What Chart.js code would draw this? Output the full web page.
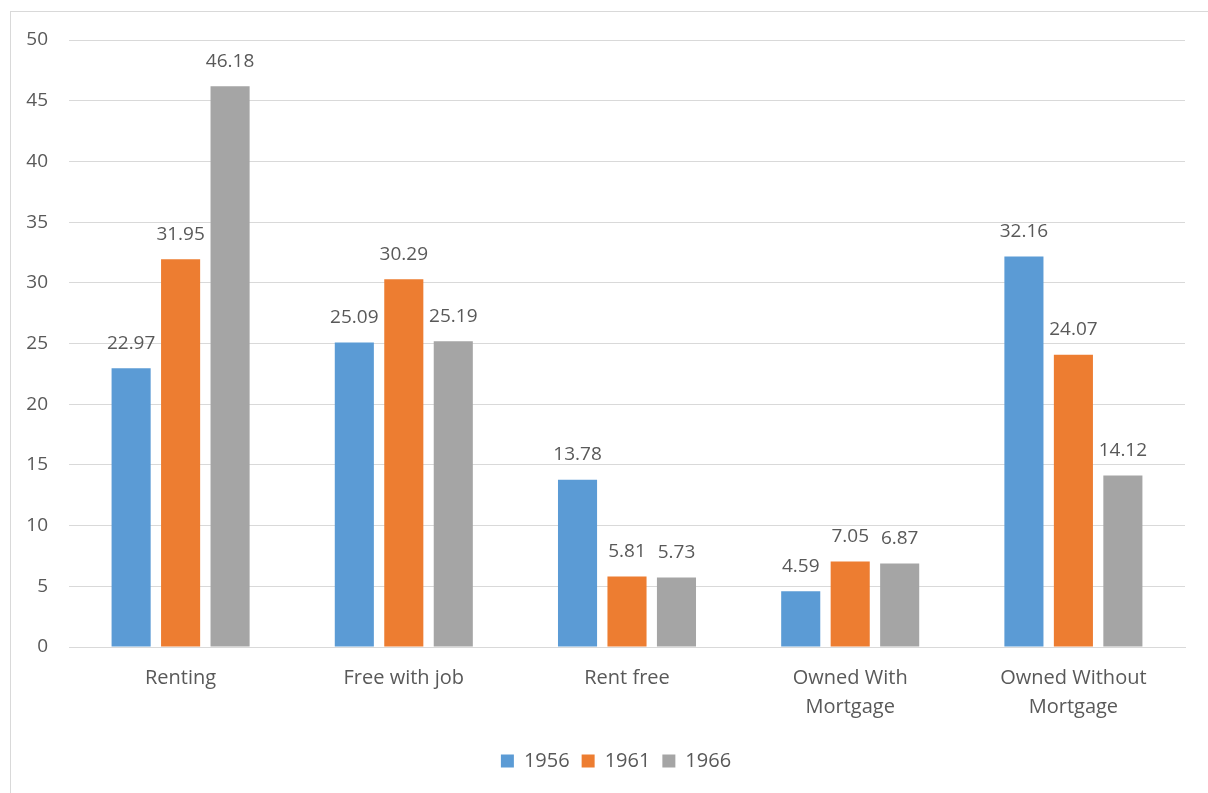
<!DOCTYPE html>
<html>
<head>
<meta charset="utf-8">
<script src="https://cdn.jsdelivr.net/npm/chart.js@4"></script>
<style>
    body { margin: 0; background: #fff; overflow: hidden; }
    #ramka {
        position: absolute; left: 10px; top: 11px;
        width: 1240px; height: 820px;
        border: 1px solid #d9d9d9;
    }
    #grafik { position: absolute; left: 0; top: 0; }
</style>
</head>
<body>
<div id="ramka"><canvas id="grafik" width="1197" height="781"></canvas></div>
<script>
const kategorije = ["Renting", "Free with job", "Rent free", ["Owned With", "Mortgage"], ["Owned Without", "Mortgage"]];
const godine = ["1956", "1961", "1966"];
const podaci1956 = [22.97, 25.09, 13.78, 4.59, 32.16];
const podaci1961 = [31.95, 30.29, 5.81, 7.05, 24.07];
const podaci1966 = [46.18, 25.19, 5.73, 6.87, 14.12];
const boje = ["#5b9bd5", "#ed7d31", "#a5a5a5"];

const font = "'Open Sans', 'Noto Sans', sans-serif";
const sivaSlova = "#595959";

// ispisuje vrijednost iznad svakog stupca
const oznakeVrijednosti = {
    id: "oznakeVrijednosti",
    afterDatasetsDraw(chart) {
        const ctx = chart.ctx;
        ctx.save();
        ctx.font = "19px " + font;
        ctx.fillStyle = sivaSlova;
        ctx.textAlign = "center";
        ctx.textBaseline = "middle";
        chart.data.datasets.forEach((ds, i) => {
            chart.getDatasetMeta(i).data.forEach((bar, j) => {
                ctx.fillText(ds.data[j].toFixed(2), bar.x, bar.y - 25);
            });
        });
        ctx.restore();
    }
};

// legenda je centrirana na cijeli okvir, malo desno od sredine grafika
const pomakLegende = {
    id: "pomakLegende",
    afterLayout(chart) {
        chart.legend.left += 18;
        chart.legend.right += 18;
    }
};

new Chart(document.getElementById("grafik"), {
    type: "bar",
    data: {
        labels: kategorije,
        datasets: [podaci1956, podaci1961, podaci1966].map((d, i) => ({
            label: godine[i],
            data: d,
            backgroundColor: boje[i],
            borderWidth: 0,
            barPercentage: 0.79,
            categoryPercentage: 0.665
        }))
    },
    options: {
        responsive: false,
        animation: false,
        layout: { padding: { top: 28, right: 23, bottom: 12, left: 0 } },
        scales: {
            x: {
                grid: { display: false, drawTicks: false },
                border: { color: "#d9d9d9", width: 1 },
                ticks: { color: sivaSlova, font: { family: font, size: 20, lineHeight: 1.45 }, padding: 17, maxRotation: 0 },
                afterFit(scale) { scale.height = 92; }
            },
            y: {
                min: 0,
                max: 50,
                ticks: { stepSize: 5, color: sivaSlova, font: { family: font, size: 19 }, padding: 21 },
                grid: { color: "#d9d9d9", drawTicks: false },
                border: { display: false },
                afterFit(scale) {
                    scale.width = 58;
                    scale.paddingTop = 0;
                    scale.paddingBottom = 0;
                }
            }
        },
        plugins: {
            tooltip: { enabled: false },
            legend: {
                position: "bottom",
                labels: { boxWidth: 13, boxHeight: 13, padding: 12, color: sivaSlova, font: { family: font, size: 20 } }
            }
        }
    },
    plugins: [oznakeVrijednosti, pomakLegende]
});
</script>
</body>
</html>
